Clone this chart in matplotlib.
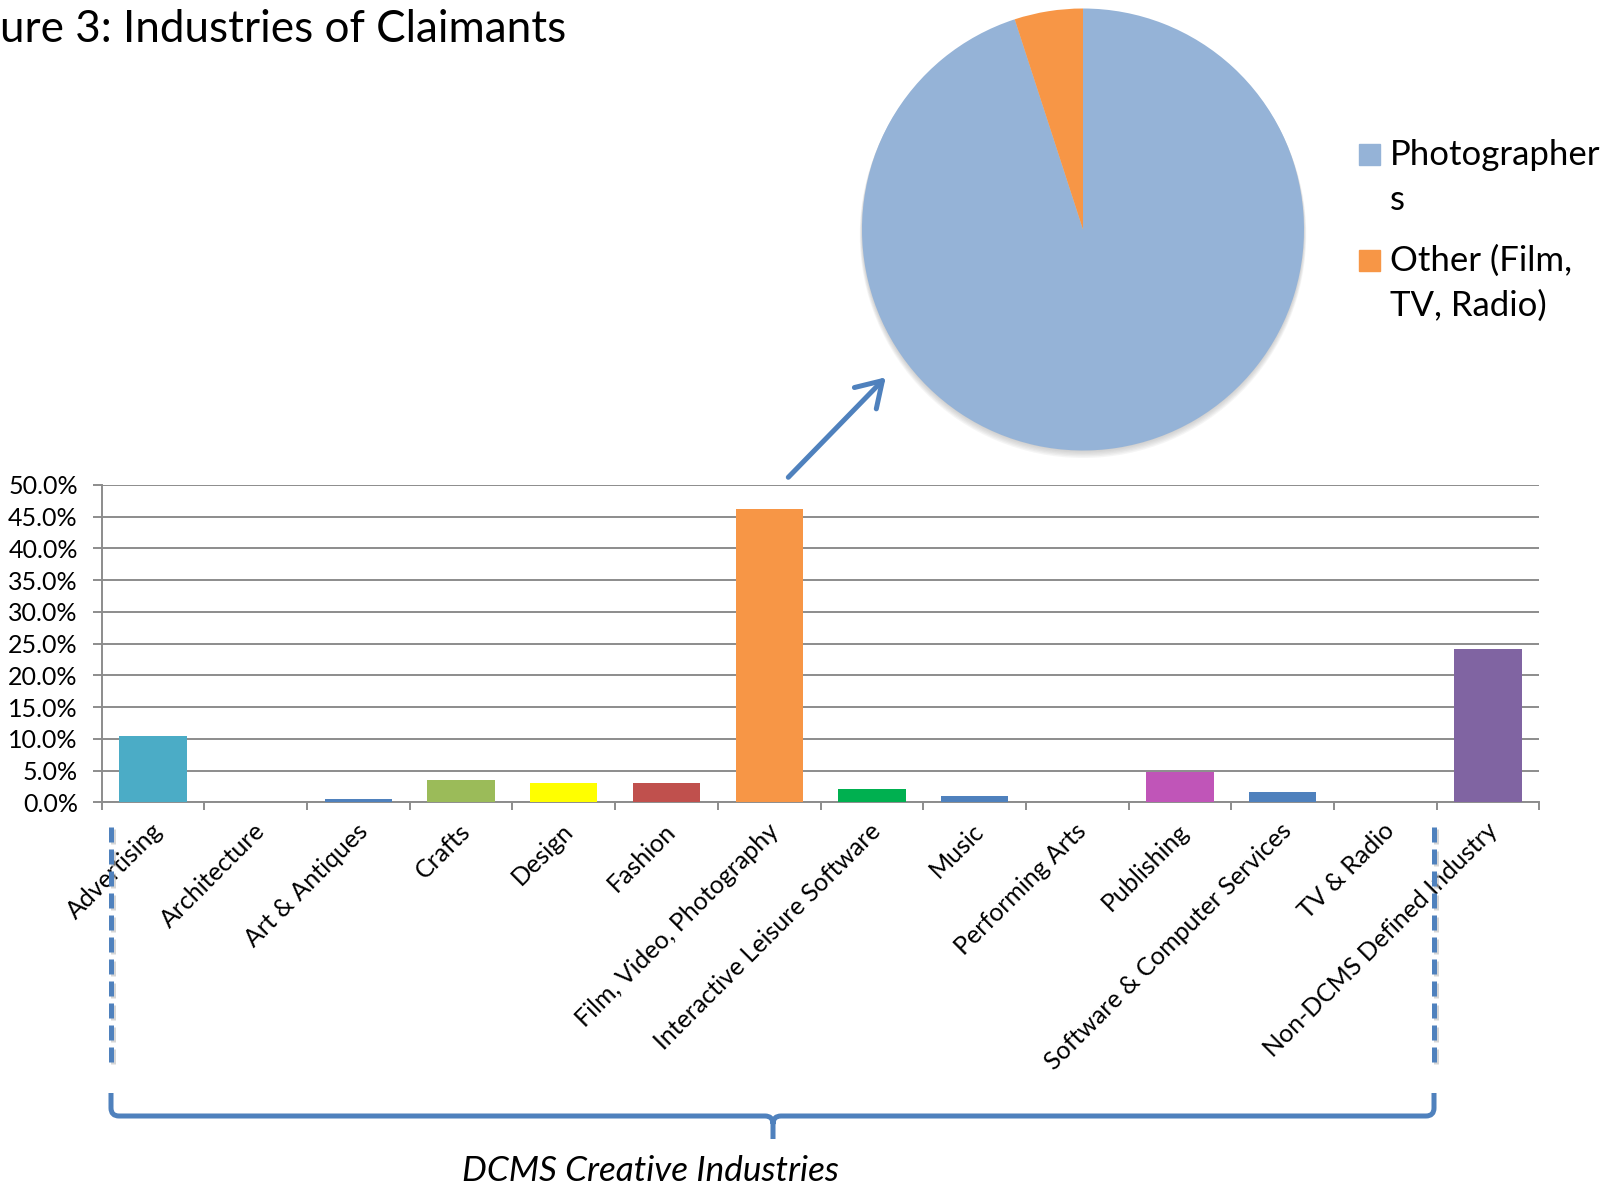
import numpy as np
import matplotlib
matplotlib.use("Agg")
import matplotlib.pyplot as plt
from matplotlib.patches import PathPatch, Circle, Rectangle
from matplotlib.path import Path
from matplotlib.transforms import ScaledTranslation
from matplotlib.ticker import FuncFormatter

# ---------------- data ----------------
categories = ["Advertising", "Architecture", "Art & Antiques", "Crafts", "Design",
              "Fashion", "Film, Video, Photography", "Interactive Leisure Software",
              "Music", "Performing Arts", "Publishing", "Software & Computer Services",
              "TV & Radio", "Non-DCMS Defined Industry"]
shares = [0.105, 0.0, 0.005, 0.035, 0.030, 0.030, 0.462, 0.021, 0.010, 0.0,
          0.048, 0.016, 0.0, 0.241]
bar_colors = ["#4BACC6", "#4F81BD", "#4F81BD", "#9BBB59", "#FFFF00", "#C0504D",
              "#F79646", "#00B050", "#4F81BD", "#4F81BD", "#C055B8", "#4F81BD",
              "#4F81BD", "#8064A2"]
y_ticks = [0.0, 0.05, 0.10, 0.15, 0.20, 0.25, 0.30, 0.35, 0.40, 0.45, 0.50]

pie_labels = ["Photographers", "Other (Film, TV, Radio)"]
pie_legend_lines = [["Photographer", "s"], ["Other (Film,", "TV, Radio)"]]
pie_values = [95, 5]
pie_colors = ["#95B3D7", "#F79646"]

title_text = "ure 3: Industries of Claimants"
brace_text = "DCMS Creative Industries"

# ---------------- figure ----------------
W, H = 1617, 1186
plt.rcParams["font.family"] = ["Lato", "DejaVu Sans"]
fig = plt.figure(figsize=(W / 100, H / 100), dpi=100)
fig.patch.set_facecolor("white")


def px_axes(x0, y0, x1, y1, **kw):
    return fig.add_axes([x0 / W, 1 - y1 / H, (x1 - x0) / W, (y1 - y0) / H], **kw)


# ---------------- bar chart ----------------
grid_c = "#8C8C8C"
ax = px_axes(101.7, 485.0, 1539.4, 802.3)
x = np.arange(len(categories)) + 0.5
ax.bar(x, shares, width=0.655, color=bar_colors, zorder=3)
ax.set_xlim(0, len(categories))
ax.set_ylim(0, 0.5)
ax.set_yticks(y_ticks)
ax.yaxis.set_major_formatter(FuncFormatter(lambda v, p: f"{v * 100:.1f}%"))
ax.yaxis.grid(True, color=grid_c, lw=1.4)
ax.set_axisbelow(True)
for s in ["top", "right"]:
    ax.spines[s].set_visible(False)
for s in ["left", "bottom"]:
    ax.spines[s].set_color(grid_c)
    ax.spines[s].set_linewidth(1.4)
ax.tick_params(axis="y", length=6.2, width=1.4, color=grid_c, pad=11,
               labelsize=18, labelcolor="black")
ax.set_xticks(np.arange(len(categories) + 1))
ax.set_xticklabels([])
ax.tick_params(axis="x", which="major", length=6, width=1.4, color=grid_c)
ax.set_xticks(x, minor=True)
ax.set_xticklabels(categories, minor=True, rotation=45, ha="right", va="center",
                   rotation_mode="anchor", fontsize=18)
ax.tick_params(axis="x", which="minor", length=0, pad=18)
off = ScaledTranslation(0.055, 0, fig.dpi_scale_trans)
for lbl in ax.get_xticklabels(minor=True):
    lbl.set_transform(lbl.get_transform() + off)

# ---------------- pie ----------------
pax = px_axes(862, 8.5, 1304, 450.5)
for k in range(6):
    pax.add_patch(Circle((0.0, -0.004 * (k + 1)), 1.0 + 0.002 * k, color="#9a9a9a",
                         alpha=0.09, zorder=0, lw=0, clip_on=False))
wedges, _ = pax.pie(pie_values, colors=pie_colors, startangle=90, counterclock=False,
                    radius=1, wedgeprops=dict(linewidth=0))
for w in wedges:
    w.set_clip_on(False)
pax.set_xlim(-1.0, 1.0)
pax.set_ylim(-1.0, 1.0)
pax.axis("off")

# ---------------- overlay (annotations in pixel coords) ----------------
ov = fig.add_axes([0, 0, 1, 1], zorder=10)
ov.set_xlim(0, W)
ov.set_ylim(H, 0)
ov.axis("off")
ov.patch.set_alpha(0)

blue = "#4F81BD"

# legend for pie
leg_y = [144, 250]
for i, (lines, col) in enumerate(zip(pie_legend_lines, pie_colors)):
    ov.add_patch(Rectangle((1359, leg_y[i]), 21, 21, color=col))
    for j, line in enumerate(lines):
        ov.text(1390, leg_y[i] + 21 + 45 * j, line, fontsize=25, ha="left",
                va="baseline")

# arrow from bar to pie
ov.annotate("", xy=(885.7, 377.3), xytext=(788.3, 477.3),
            arrowprops=dict(arrowstyle="->,head_length=0.8,head_width=0.5",
                            lw=3.6, color=blue, mutation_scale=22,
                            shrinkA=0, shrinkB=0))

# dashed vertical lines
for xd in (111, 1434):
    ov.plot([xd + 1.5, xd + 1.5], [829, 1069], color="#bbbbbb", lw=3.6,
            dashes=(3, 1.4), dash_capstyle="butt", alpha=0.6)
    ov.plot([xd, xd], [827, 1067], color=blue, lw=3.6, dashes=(3, 1.4),
            dash_capstyle="butt")

# brace
xl, xr, xm, yb, ytop, ytip, r = 111, 1434, 773, 1116, 1093, 1139, 8
verts = [(xl, ytop), (xl, yb - r), (xl, yb), (xl + r, yb), (xm - r, yb), (xm, yb),
         (xm, yb + r), (xm, ytip),
         (xm, yb + r), (xm, yb), (xm + r, yb), (xr - r, yb), (xr, yb), (xr, yb - r),
         (xr, ytop)]
codes = [Path.MOVETO, Path.LINETO, Path.CURVE3, Path.CURVE3, Path.LINETO, Path.CURVE3,
         Path.CURVE3, Path.LINETO,
         Path.MOVETO, Path.CURVE3, Path.CURVE3, Path.LINETO, Path.CURVE3, Path.CURVE3,
         Path.LINETO]
ov.add_patch(PathPatch(Path(verts, codes), fill=False, lw=3.6, edgecolor=blue,
                       capstyle="butt", joinstyle="round"))

ov.text(650, 1181, brace_text, fontsize=25.3, style="italic", ha="center",
        va="baseline")

# title (cut off at the left edge as in the reference)
ov.text(0, 42, title_text, fontsize=31.7, ha="left", va="baseline")

fig.savefig("out.png", dpi=100, facecolor="white")
